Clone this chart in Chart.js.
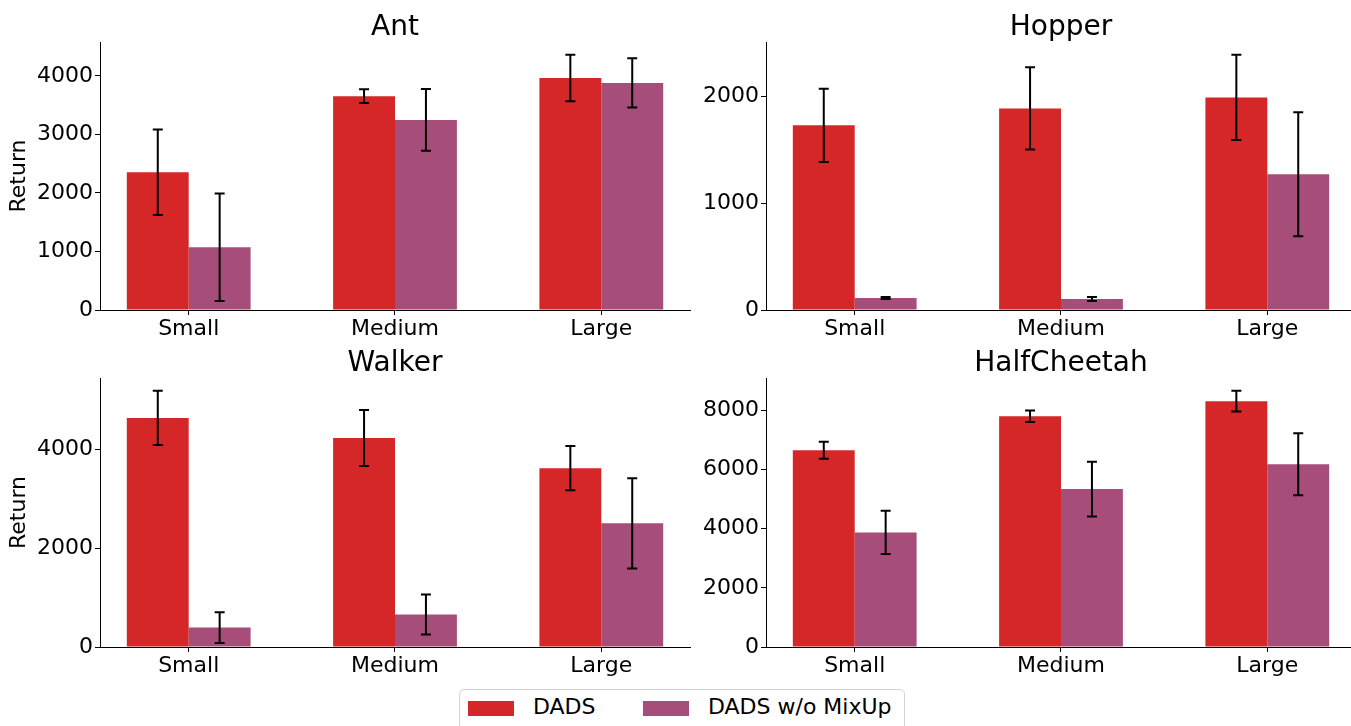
<!DOCTYPE html>
<html><head><meta charset="utf-8">
<script src="https://cdn.jsdelivr.net/npm/chart.js@4"></script>
<style>
html,body{margin:0;padding:0;background:#fff;overflow:hidden;width:1351px;height:726px;position:relative;font-family:'DejaVu Sans';}
.p{position:absolute;}
#legend{position:absolute;left:459px;top:689px;width:446px;height:46px;border:1px solid #d4d4d4;border-radius:5px;box-sizing:border-box;font:22px 'DejaVu Sans';color:#000;}
#legend .sw{position:absolute;top:11px;width:46px;height:15px;}
#legend .tx{position:absolute;top:4px;line-height:26px;white-space:nowrap;}
</style></head>
<body>
<div class="p" style="left:0;top:0"><canvas id="c0" width="700" height="345"></canvas></div>
<div class="p" style="left:666px;top:0"><canvas id="c1" width="700" height="345"></canvas></div>
<div class="p" style="left:0;top:336px"><canvas id="c2" width="700" height="346"></canvas></div>
<div class="p" style="left:666px;top:336px"><canvas id="c3" width="700" height="346"></canvas></div>
<div id="legend">
  <div class="sw" id="sw0" style="left:8px"></div><div class="tx" id="tx0" style="left:73px"></div>
  <div class="sw" id="sw1" style="left:183px"></div><div class="tx" id="tx1" style="left:248px"></div>
</div>
<script>
const categories = ['Small', 'Medium', 'Large'];
const seriesNames = ['DADS', 'DADS w/o MixUp'];
const panelTitles = ['Ant', 'Hopper', 'Walker', 'HalfCheetah'];

const antDads = [2353, 3655, 3965];
const antDadsErr = [730, 117, 396];
const antNoMix = [1071, 3248, 3880];
const antNoMixErr = [918, 527, 421];

const hopperDads = [1726, 1884, 1987];
const hopperDadsErr = [342, 384, 398];
const hopperNoMix = [112, 103, 1269];
const hopperNoMixErr = [10, 18, 580];

const walkerDads = [4628, 4222, 3614];
const walkerDadsErr = [547, 565, 446];
const walkerNoMix = [393, 656, 2500];
const walkerNoMixErr = [311, 405, 912];

const cheetahDads = [6646, 7797, 8305];
const cheetahDadsErr = [288, 193, 350];
const cheetahNoMix = [3871, 5335, 6173];
const cheetahNoMixErr = [728, 925, 1049];

const yMax = [4580, 2505, 5435, 9088];
const yStep = [1000, 1000, 2000, 2000];

const colors = ['#d62728', '#a64d79'];
const FONT = 'DejaVu Sans';

document.getElementById('sw0').style.background = colors[0];
document.getElementById('sw1').style.background = colors[1];
document.getElementById('tx0').textContent = seriesNames[0];
document.getElementById('tx1').textContent = seriesNames[1];

const errorBars = {
  id: 'errorBars',
  afterDatasetsDraw(chart) {
    const ctx = chart.ctx, ys = chart.scales.y;
    ctx.save();
    ctx.strokeStyle = '#000';
    ctx.lineWidth = 2;
    chart.data.datasets.forEach((ds, i) => {
      const meta = chart.getDatasetMeta(i);
      meta.data.forEach((bar, j) => {
        const v = ds.data[j].y, e = ds.errors[j];
        const top = ys.getPixelForValue(v + e), bot = ys.getPixelForValue(v - e);
        const x = bar.x;
        ctx.beginPath();
        ctx.moveTo(x, top); ctx.lineTo(x, bot);
        ctx.moveTo(x - 5, top); ctx.lineTo(x + 5, top);
        ctx.moveTo(x - 5, bot); ctx.lineTo(x + 5, bot);
        ctx.stroke();
      });
    });
    ctx.restore();
  }
};

function pts(arr) { return arr.map((v, i) => ({ x: i, y: v })); }

function makePanel(id, idx, a, aErr, b, bErr, showYTitle) {
  new Chart(document.getElementById(id), {
    type: 'bar',
    data: {
      datasets: [
        { label: seriesNames[0], data: pts(a), errors: aErr, backgroundColor: colors[0], borderWidth: 0,
          categoryPercentage: 0.6, barPercentage: 1.0 },
        { label: seriesNames[1], data: pts(b), errors: bErr, backgroundColor: colors[1], borderWidth: 0,
          categoryPercentage: 0.6, barPercentage: 1.0 }
      ]
    },
    options: {
      responsive: false,
      animation: false,
      layout: { padding: { left: 0, right: 10, top: 0, bottom: 0 } },
      plugins: {
        legend: { display: false },
        tooltip: { enabled: false },
        title: { display: true, text: panelTitles[idx], color: '#000', fullSize: false,
                 font: { family: FONT, size: 28, weight: 'normal', lineHeight: 1 },
                 padding: { top: 14, bottom: 0 } }
      },
      scales: {
        x: {
          type: 'linear', min: -0.43, max: 2.43, offset: false,
          afterBuildTicks(s) { s.ticks = categories.map((c, i) => ({ value: i })); },
          afterFit(s) { s.height = 35; },
          ticks: { callback: (v) => categories[v], color: '#000', font: { family: FONT, size: 22 },
                   padding: 1, autoSkip: false, maxRotation: 0 },
          grid: { display: true, drawOnChartArea: false, drawTicks: true, tickLength: 5, color: '#000', offset: false },
          border: { display: true, color: '#000', width: 1 }
        },
        y: {
          type: 'linear', min: 0, max: yMax[idx],
          afterBuildTicks(s) {
            const t = [];
            for (let v = 0; v <= yMax[idx]; v += yStep[idx]) t.push({ value: v });
            s.ticks = t;
          },
          afterFit(s) { s.width = 100; },
          ticks: { callback: (v) => String(v), autoSkip: false,
                   color: '#000', font: { family: FONT, size: 22 }, padding: 2 },
          grid: { display: true, drawOnChartArea: false, drawTicks: true, tickLength: 5, color: '#000' },
          border: { display: true, color: '#000', width: 1 },
          title: { display: showYTitle, text: 'Return', color: '#000',
                   font: { family: FONT, size: 22 }, padding: { top: 6, bottom: 0 } }
        }
      }
    },
    plugins: [errorBars]
  });
}

makePanel('c0', 0, antDads, antDadsErr, antNoMix, antNoMixErr, true);
makePanel('c1', 1, hopperDads, hopperDadsErr, hopperNoMix, hopperNoMixErr, false);
makePanel('c2', 2, walkerDads, walkerDadsErr, walkerNoMix, walkerNoMixErr, true);
makePanel('c3', 3, cheetahDads, cheetahDadsErr, cheetahNoMix, cheetahNoMixErr, false);
</script>
</body></html>
